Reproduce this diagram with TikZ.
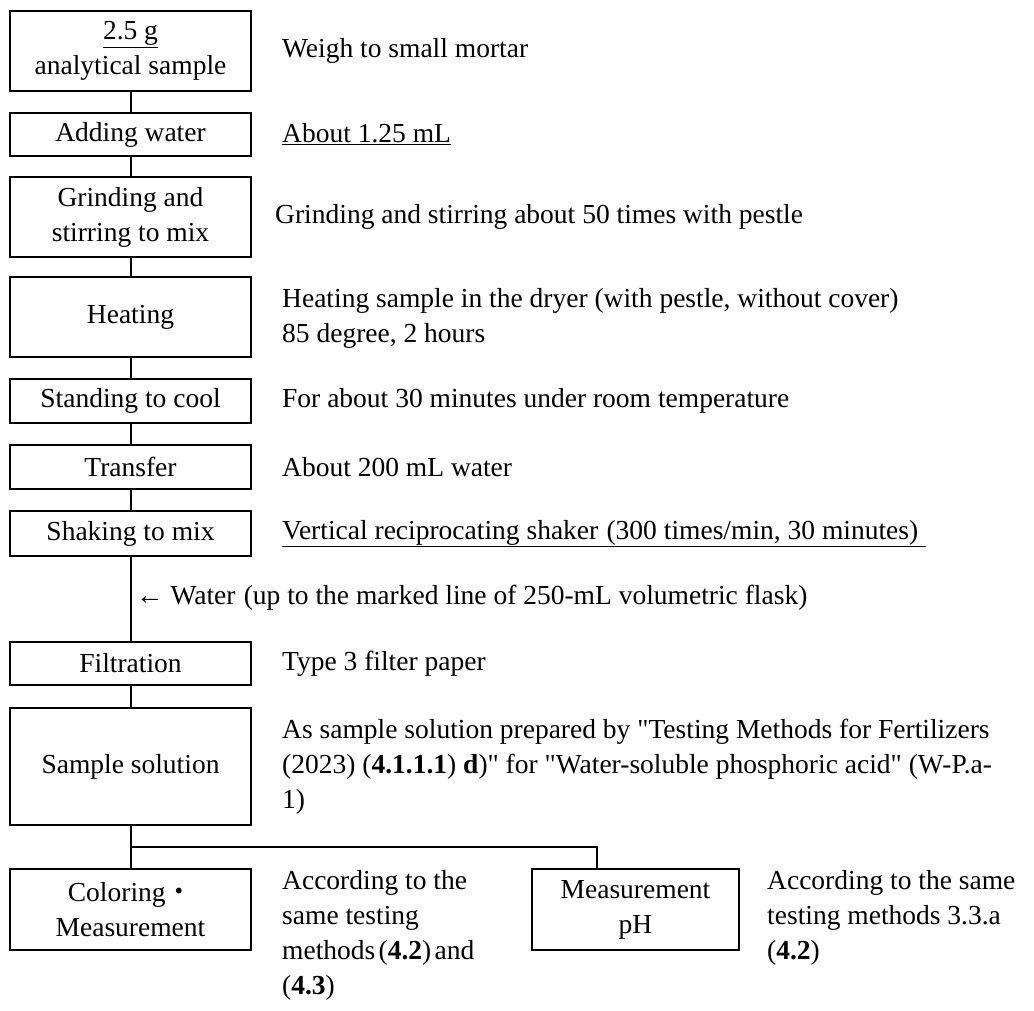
\documentclass[tikz,border=0pt]{standalone}
\usepackage{fontspec}
\setmainfont{Liberation Serif}[Ligatures=TeXOff]
\newfontfamily\cjk{Noto Sans CJK JP}
\newcommand\lp{\hspace{0.12em}(}
\newcommand\rp{)\hspace{0.12em}}
\begin{document}
\begin{tikzpicture}[x=1pt,y=-1pt,
  every node/.style={font=\fontsize{27.5}{35}\selectfont, inner sep=0pt},
  box/.style={draw, line width=2.5pt, minimum width=241pt, align=center},
  desc/.style={anchor=west, align=left},
  conn/.style={line width=2pt}]
\useasboundingbox (0,0) rectangle (1034,1010);
% boxes
\node[box, minimum height=80pt] (b1) at (130.5,51) {\underline{2.5 g}\\analytical sample};
\node[box, minimum height=43pt] (b2) at (130.5,134.5) {Adding water};
\node[box, minimum height=80pt] (b3) at (130.5,217) {Grinding and\\stirring to mix};
\node[box, minimum height=80pt] (b4) at (130.5,317) {Heating};
\node[box, minimum height=44pt] (b5) at (130.5,401) {Standing to cool};
\node[box, minimum height=44pt] (b6) at (130.5,467) {Transfer};
\node[box, minimum height=45pt] (b7) at (130.5,533.5) {Shaking to mix};
\node[box, minimum height=43pt] (b8) at (130.5,663.5) {Filtration};
\node[box, minimum height=117pt] (b9) at (130.5,766.5) {Sample solution};
\node[box, minimum height=81pt] (b10) at (130.5,909.5) {Coloring{\cjk ・}\\Measurement};
\node[box, minimum height=81pt, minimum width=207pt] (b11) at (635.5,909.5) {Measurement\\pH};
% descriptions
\node[desc] (d1) at (282,51) {Weigh to small mortar};
\node[desc] (d2) at (282,134.5) {\underline{About 1.25 mL}};
\node[desc] (d3) at (275,217) {Grinding and stirring about 50 times with pestle};
\node[desc] (d4) at (282,318) {Heating sample in the dryer (with pestle, without cover)\\85 degree, 2 hours};
\node[desc] (d5) at (282,401) {For about 30 minutes under room temperature};
\node[desc] (d6) at (282,467) {About 200 mL water};
\node[desc] (d7) at (282,533.5) {\underline{Vertical reciprocating shaker\hspace{0.3em}(300 times/min, 30 minutes)\hspace{0.3em}}};
\node[desc] (w) at (136,598) {← Water\hspace{0.3em}(up to the marked line of 250-mL volumetric flask)};
\node[desc] (d8) at (282,663.5) {Type 3 filter paper};
\node[desc] (d9) at (282,767) {As sample solution prepared by "Testing Methods for Fertilizers\\(2023) (\textbf{4.1.1.1}) \textbf{d})" for "Water-soluble phosphoric acid" (W-P.a-\\1)};
\node[desc, anchor=north west] (d10) at (282,870) {According to the\\same testing\\methods\lp\textbf{4.2}\rp and\\(\textbf{4.3})};
\node[desc, anchor=north west] (d11) at (767,870) {According to the same\\testing methods 3.3.a\\(\textbf{4.2})};
% connectors
\draw[conn] (b1) -- (b2);
\draw[conn] (b2) -- (b3);
\draw[conn] (b3) -- (b4);
\draw[conn] (b4) -- (b5);
\draw[conn] (b5) -- (b6);
\draw[conn] (b6) -- (b7);
\draw[conn] (b7) -- (b8);
\draw[conn] (b8) -- (b9);
\draw[conn] (b9) -- (b10);
\coordinate (br) at (597,847);
\draw[conn] (b9.south |- br) -- (br) -- (br |- b11.north);
\end{tikzpicture}
\end{document}
